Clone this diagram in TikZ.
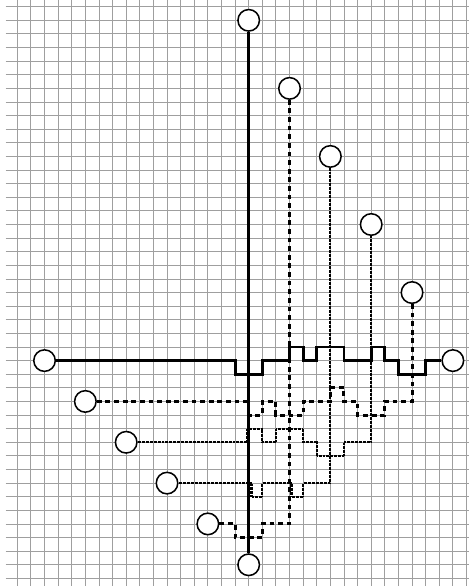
\documentclass[tikz,border=0pt]{standalone}
\begin{document}
\begin{tikzpicture}[x=0.5cm,y=-0.5cm,
  gridline/.style={gray!75,line width=0.9pt},
  port/.style={circle,draw=black,fill=white,line width=1.6pt,minimum size=22.5pt,inner sep=0pt},
  solidwire/.style={line width=3pt},
  dashwire/.style={line width=3.1pt,dash pattern=on 5pt off 4pt},
  dotwire/.style={line width=2.3pt,dash pattern=on 0.5pt off 0.9pt}]
\useasboundingbox (-1.271,-0.492) rectangle (33.19,42.56);
% grid
\foreach \j in {0,...,42} \draw[gridline] (-0.852,\j) -- (33.19,\j);
\foreach \i in {0,...,33} \draw[gridline] (\i,-0.492) -- (\i,42.56);
% ports
\node[port] (T) at (17,1) {};
\node[port] (B) at (17,41) {};
\node[port] (L) at (2,26) {};
\node[port] (R) at (32,26) {};
\node[port] (a1) at (20,6) {};
\node[port] (a2) at (23,11) {};
\node[port] (a3) at (26,16) {};
\node[port] (a4) at (29,21) {};
\node[port] (b1) at (5,29) {};
\node[port] (b2) at (8,32) {};
\node[port] (b3) at (11,35) {};
\node[port] (b4) at (14,38) {};
% dotted wires
\draw[dotwire] (b2) -- (16.85,32) -- (16.85,31) -- (18,31) -- (18,32) -- (19,32) -- (19,31) -- (21,31) -- (21,32) -- (22,32) -- (22,33) -- (24,33) -- (24,32) -- (26,32) -- (a3);
\draw[dotwire] (b3) -- (17.2,35) -- (17.2,36) -- (18,36) -- (18,35) -- (20.15,35) -- (20.15,36) -- (21,36) -- (21,35) -- (23,35) -- (a2);
% dashed wires
\draw[dashwire] (b1) -- (17,29) -- (17,30) -- (18,30) -- (18,29) -- (19,29) -- (19,30) -- (21,30) -- (21,29) -- (23,29) -- (23,28) -- (24,28) -- (24,29) -- (25,29) -- (25,30) -- (27,30) -- (27,29) -- (29,29) -- (a4);
\draw[dashwire] (b4) -- (16,38) -- (16,39) -- (18,39) -- (18,38) -- (20,38) -- (a1);
% solid wires
\draw[solidwire] (L) -- (16,26) -- (16,27) -- (18,27) -- (18,26) -- (20,26) -- (20,25) -- (21,25) -- (21,26) -- (22,26) -- (22,25) -- (24,25) -- (24,26) -- (26,26) -- (26,25) -- (27,25) -- (27,26) -- (28,26) -- (28,27) -- (30,27) -- (30,26) -- (R);
\draw[solidwire] (T) -- (B);
\end{tikzpicture}
\end{document}
